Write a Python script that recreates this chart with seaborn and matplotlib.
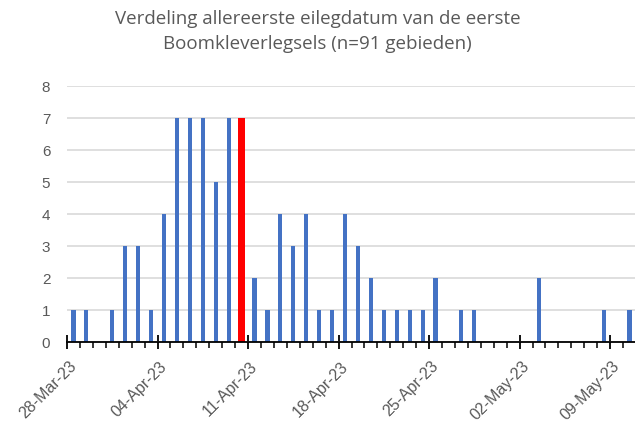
import numpy as np
import pandas as pd
import matplotlib
matplotlib.use("Agg")
import matplotlib.pyplot as plt
import matplotlib.transforms as mtransforms
import seaborn as sns
from matplotlib.ticker import FixedLocator, MultipleLocator

# Data: number of territories per first egg-laying date (day offset from 28-Mar-23)
start_date = "2023-03-28"
n_days = 44
day_offsets = [0, 1, 3, 4, 5, 6, 7, 8, 9, 10, 11, 12, 13, 14, 15, 16, 17, 18, 19, 20,
               21, 22, 23, 24, 25, 26, 27, 28, 30, 31, 36, 41, 43]
counts = [1, 1, 1, 3, 3, 1, 4, 7, 7, 7, 5, 7, 7, 2, 1, 4, 3, 4, 1, 1,
          4, 3, 2, 1, 1, 1, 1, 2, 1, 1, 2, 1, 1]
highlight_day = 13  # 10-Apr-23 (red)
tick_labels = ["28-Mar-23", "04-Apr-23", "11-Apr-23", "18-Apr-23",
               "25-Apr-23", "02-May-23", "09-May-23"]
title_lines = ["Verdeling allereerste eilegdatum van de eerste",
               "Boomkleverlegsels (n=91 gebieden)"]

sns.set_theme(style="white")
plt.rcParams['font.family'] = ['Liberation Sans', 'DejaVu Sans']

df = pd.DataFrame({"day": day_offsets, "count": counts})
df["pos"] = df["day"] + 0.5
df_blue = df[df["day"] != highlight_day]
df_red = df[df["day"] == highlight_day]

fig = plt.figure(figsize=(6.35, 4.24), dpi=100)
ax = fig.add_axes([67 / 635, 1 - 342 / 424, (636 - 67) / 635, (342 - 86) / 424])

sns.barplot(data=df_blue, x="pos", y="count", native_scale=True, color="#4472C4",
            saturation=1, width=0.32, linewidth=0, edgecolor="none", ax=ax)
sns.barplot(data=df_red, x="pos", y="count", native_scale=True, color="#FF0000",
            saturation=1, width=0.48, linewidth=0, edgecolor="none", ax=ax)

ax.set_xlim(0, n_days)
ax.set_ylim(0, 8)
ax.set_xlabel("")
ax.set_ylabel("")

ax.yaxis.set_major_locator(MultipleLocator(1))
ax.grid(axis="y", color="#D9D9D9", linewidth=1.2)
ax.set_axisbelow(True)

ax.xaxis.set_major_locator(FixedLocator(list(range(0, n_days, 7))))
ax.xaxis.set_minor_locator(FixedLocator(list(range(0, n_days + 1))))
ax.tick_params(axis="x", which="major", direction="inout", length=10, width=1.3,
               color="black", pad=4, bottom=True)
ax.tick_params(axis="x", which="minor", direction="out", length=4, width=1.1,
               color="black", bottom=True)
ax.tick_params(axis="y", which="major", length=0, labelsize=11, labelcolor="#595959", pad=12)
ax.set_xticklabels(tick_labels, rotation=45, ha="right", va="center",
                   rotation_mode="anchor", fontsize=11.5, color="#595959")
offset = mtransforms.ScaledTranslation(0.07, -0.095, fig.dpi_scale_trans)
for lab in ax.get_xticklabels():
    lab.set_transform(lab.get_transform() + offset)

for side in ["top", "right", "left"]:
    ax.spines[side].set_visible(False)
ax.spines["bottom"].set_color("black")
ax.spines["bottom"].set_linewidth(1.3)

for line, ypx in zip(title_lines, [19, 44]):
    fig.text(0.5, 1 - ypx / 424, line, ha="center", va="center", fontsize=13.5,
             color="#595959", family=["Open Sans", "DejaVu Sans"])

fig.savefig("out.png", dpi=100)
